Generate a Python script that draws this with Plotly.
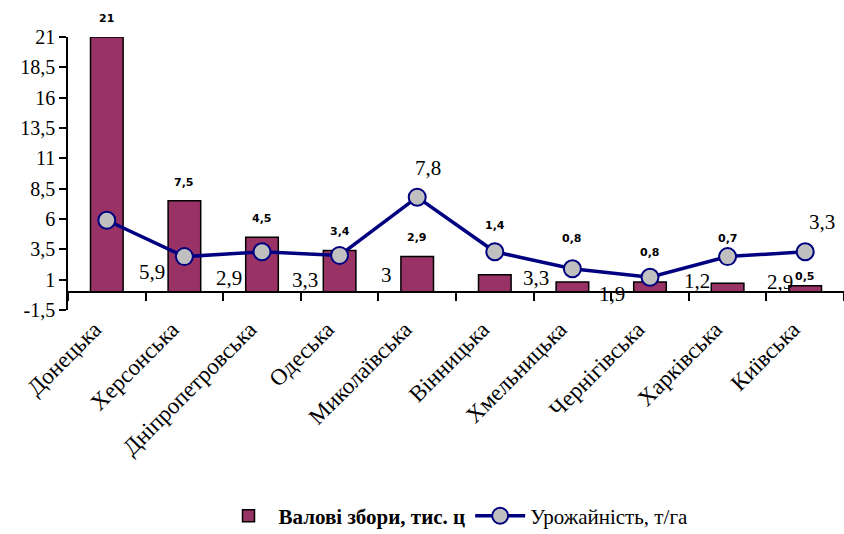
import plotly.graph_objects as go

categories = ["Донецька", "Херсонська", "Дніпропетровська", "Одеська", "Миколаївська",
              "Вінницька", "Хмельницька", "Чернігівська", "Харківська", "Київська"]
gross_harvest = [21, 7.5, 4.5, 3.4, 2.9, 1.4, 0.8, 0.8, 0.7, 0.5]
yield_t_ha = [5.9, 2.9, 3.3, 3, 7.8, 3.3, 1.9, 1.2, 2.9, 3.3]
y_tick_values = [-1.5, 1, 3.5, 6, 8.5, 11, 13.5, 16, 18.5, 21]

# label placement (pixel offsets, mimicking the original's manual label positions)
bar_label_dy = [19, 18, 19, 19, 19, 49, 44, 30, 45, 9]
line_label_dx = [45, 45, 43, 47, 11, 41, 40, 47, 52, 17]
line_label_dy = [-52, -21, -28, -20, 29, -26, -25, -4, -25, 30]


def fmt(v):
    s = ("%g" % v)
    return s.replace(".", ",")


SERIF = "'Times New Roman', 'Liberation Serif', serif"

fig = go.Figure()
fig.add_trace(go.Bar(
    x=categories, y=gross_harvest, name="<b>Валові збори, тис. ц</b>",
    marker=dict(color="#993366", line=dict(color="black", width=1.5)),
    width=0.42, hoverinfo="skip",
))
fig.add_trace(go.Scatter(
    x=categories, y=yield_t_ha, name="Урожайність, т/га", mode="lines+markers",
    line=dict(color="#000080", width=3.5),
    marker=dict(symbol="circle", size=17, color="#C0C0C0", line=dict(color="#000080", width=2)),
    hoverinfo="skip",
))

annotations = []
for c, v, dy in zip(categories, gross_harvest, bar_label_dy):
    annotations.append(dict(x=c, y=v, text="<b>" + fmt(v) + "</b>", showarrow=False,
                            xanchor="center", yanchor="middle", yshift=dy,
                            font=dict(family="DejaVu Sans", size=11, color="black")))
for c, v, dx, dy in zip(categories, yield_t_ha, line_label_dx, line_label_dy):
    annotations.append(dict(x=c, y=v, text=fmt(v), showarrow=False,
                            xanchor="center", yanchor="middle", xshift=dx, yshift=dy,
                            font=dict(family=SERIF, size=21, color="black")))

fig.update_layout(
    width=844, height=534,
    margin=dict(l=68, r=0, t=37, b=224, autoexpand=False),
    paper_bgcolor="white", plot_bgcolor="white",
    font=dict(family=SERIF, size=20, color="black"),
    showlegend=True,
    legend=dict(orientation="h", x=0.5, xanchor="center", y=-0.83, yanchor="bottom",
                font=dict(family=SERIF, size=21, color="black"), itemwidth=50,
                bgcolor="rgba(0,0,0,0)"),
    annotations=annotations,
)
fig.update_yaxes(
    range=[-1.5, 21], tickvals=y_tick_values, ticktext=[fmt(v) for v in y_tick_values],
    showgrid=False, zeroline=False, showline=True, linecolor="black", linewidth=1.5,
    ticks="outside", ticklen=7, tickwidth=1.5, tickcolor="black", automargin=False,
    tickfont=dict(family=SERIF, size=20, color="black"),
)
fig.update_xaxes(
    type="category", anchor="free", position=1.5 / 22.5, range=[-0.5, 9.5],
    tickvals=categories, ticktext=[c + "\u00a0\u00a0\u00a0" for c in categories],
    showgrid=False, zeroline=False, showline=True, linecolor="black", linewidth=1.5,
    ticks="outside", tickson="boundaries", ticklen=8, tickwidth=1.5, tickcolor="black",
    tickangle=-45, ticklabelstandoff=2, automargin=False,
    tickfont=dict(family=SERIF, size=23, color="black"),
)

fig.write_html("out.html")
